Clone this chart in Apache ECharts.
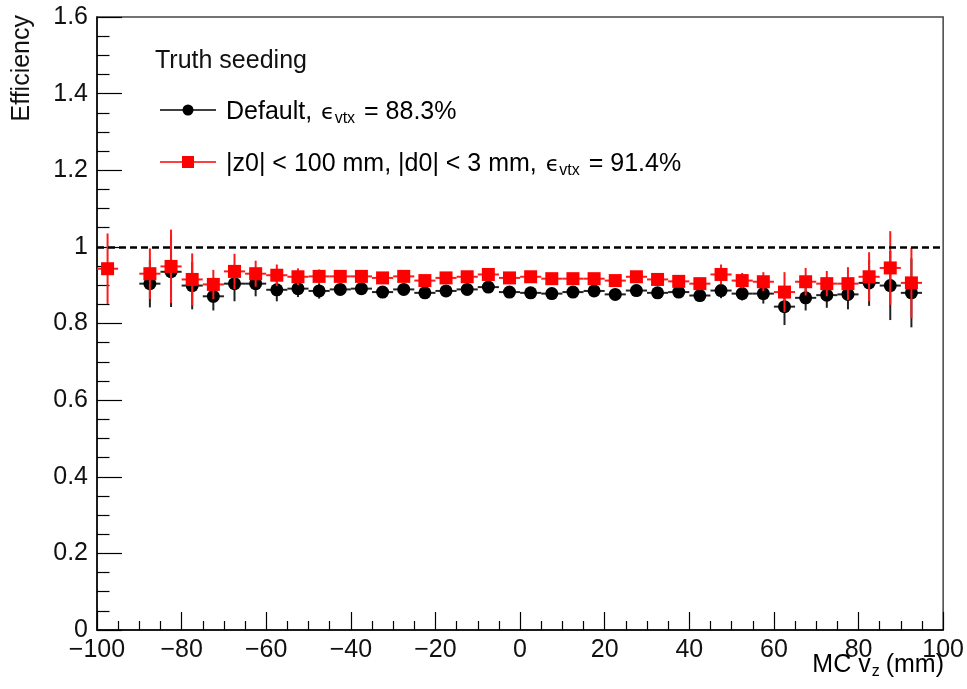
<!DOCTYPE html>
<html>
<head>
<meta charset="utf-8">
<title>Efficiency vs MC vz</title>
<script src="https://cdn.jsdelivr.net/npm/echarts@6/dist/echarts.min.js"></script>
<style>
  html, body { margin: 0; padding: 0; background: #fff; }
  #chart { width: 967px; height: 689px; }
</style>
</head>
<body>
<div id="chart"></div>
<script>
// Bin centres of the MC vertex z distribution (mm); each bin is 5 mm wide
const binCenters = [-97.5, -87.5, -82.5, -77.5, -72.5, -67.5, -62.5, -57.5, -52.5, -47.5,
  -42.5, -37.5, -32.5, -27.5, -22.5, -17.5, -12.5, -7.5, -2.5, 2.5,
  7.5, 12.5, 17.5, 22.5, 27.5, 32.5, 37.5, 42.5, 47.5, 52.5,
  57.5, 62.5, 67.5, 72.5, 77.5, 82.5, 87.5, 92.5];
const binHalfWidth = 2.5;

// Default selection
const defaultEff = [null, 0.904, 0.935, 0.899, 0.871, 0.904, 0.904, 0.888, 0.891, 0.885,
  0.889, 0.891, 0.882, 0.889, 0.880, 0.885, 0.889, 0.895, 0.882, 0.880,
  0.878, 0.882, 0.885, 0.876, 0.886, 0.880, 0.882, 0.873, 0.886, 0.878,
  0.878, 0.844, 0.867, 0.874, 0.876, 0.906, 0.899, 0.880];
const defaultErr = [null, 0.062, 0.092, 0.062, 0.037, 0.046, 0.033, 0.030, 0.022, 0.020,
  0.015, 0.014, 0.013, 0.012, 0.012, 0.012, 0.012, 0.012, 0.012, 0.012,
  0.012, 0.012, 0.012, 0.012, 0.012, 0.013, 0.014, 0.016, 0.020, 0.018,
  0.026, 0.048, 0.033, 0.033, 0.039, 0.060, 0.090, 0.090];

// |z0| < 100 mm, |d0| < 3 mm selection
const cutEff = [0.943, 0.930, 0.949, 0.915, 0.902, 0.936, 0.930, 0.926, 0.922, 0.923,
  0.923, 0.923, 0.919, 0.923, 0.912, 0.919, 0.922, 0.928, 0.919, 0.922,
  0.917, 0.917, 0.917, 0.912, 0.922, 0.915, 0.910, 0.904, 0.928, 0.912,
  0.909, 0.882, 0.909, 0.904, 0.904, 0.922, 0.945, 0.906];
const cutErr = [0.092, 0.066, 0.096, 0.068, 0.038, 0.046, 0.034, 0.028, 0.022, 0.018,
  0.014, 0.013, 0.012, 0.012, 0.012, 0.012, 0.012, 0.012, 0.012, 0.012,
  0.012, 0.012, 0.012, 0.012, 0.012, 0.012, 0.013, 0.015, 0.026, 0.020,
  0.025, 0.052, 0.036, 0.033, 0.043, 0.064, 0.096, 0.092];

const unityLevel = 1;
const legendTitle = 'Truth seeding';
const defaultLabel = ['Default, ', '88.3%'];
const cutLabel = ['|z0| < 100 mm, |d0| < 3 mm, ', '91.4%'];

const FONT = '"Liberation Sans", Arial, Helvetica, sans-serif';
const FS = 25;
const EPS = '\u03F5';

function rows(vals, errs) {
  const out = [];
  binCenters.forEach((x, i) => {
    if (vals[i] !== null) out.push([x, vals[i], errs[i]]);
  });
  return out;
}

function errorBars(color) {
  return function (params, api) {
    const x = api.value(0), y = api.value(1), e = api.value(2);
    const top = api.coord([x, y + e]);
    const bot = api.coord([x, y - e]);
    const left = api.coord([x - binHalfWidth, y]);
    const right = api.coord([x + binHalfWidth, y]);
    const style = { stroke: color, lineWidth: 2 };
    return {
      type: 'group',
      children: [
        { type: 'line', shape: { x1: top[0], y1: top[1], x2: bot[0], y2: bot[1] }, style },
        { type: 'line', shape: { x1: left[0], y1: left[1], x2: right[0], y2: right[1] }, style }
      ]
    };
  };
}

const defaultData = rows(defaultEff, defaultErr);
const cutData = rows(cutEff, cutErr);

const chart = echarts.init(document.getElementById('chart'), null, { renderer: 'canvas' });

const richLegend = {
  t: { fontSize: FS, fontFamily: FONT, color: '#111', lineHeight: 30, verticalAlign: 'middle' },
  e: { fontSize: 22, fontFamily: '"DejaVu Sans", ' + FONT, color: '#111', lineHeight: 30, verticalAlign: 'bottom', padding: [0, 0, 3, 2] },
  s: { fontSize: 16, fontFamily: FONT, color: '#111', lineHeight: 30, verticalAlign: 'bottom', padding: [0, 2, 0, 0] }
};

chart.setOption({
  animation: false,
  backgroundColor: '#fff',
  grid: {
    left: 97, right: 22, top: 17, bottom: 59,
    show: true, borderColor: '#444', borderWidth: 1.5, backgroundColor: 'transparent'
  },
  xAxis: {
    type: 'value', min: -100, max: 100, interval: 20,
    axisLine: { onZero: false, lineStyle: { color: '#000', width: 1.5 } },
    axisTick: { inside: true, length: 18, lineStyle: { color: '#000', width: 1.2 } },
    minorTick: { show: true, splitNumber: 4, length: 9, lineStyle: { color: '#000', width: 1.2 } },
    splitLine: { show: false },
    axisLabel: {
      margin: 8, fontSize: FS, fontFamily: FONT, color: '#111',
      formatter: v => String(v).replace('-', '\u2212')
    }
  },
  yAxis: {
    type: 'value', min: 0, max: 1.6, interval: 0.2,
    axisLine: { show: true, onZero: false, lineStyle: { color: '#000', width: 1.5 } },
    axisTick: { inside: true, length: 25, lineStyle: { color: '#000', width: 1.2 } },
    minorTick: { show: true, splitNumber: 4, length: 12.5, lineStyle: { color: '#000', width: 1.2 } },
    splitLine: { show: false },
    axisLabel: {
      margin: 9, fontSize: FS, fontFamily: FONT, color: '#111',
      formatter: v => String(+v.toFixed(1))
    }
  },
  series: [
    {
      name: 'default-errors', type: 'custom', z: 2,
      renderItem: errorBars('#222'), data: defaultData,
      encode: { x: 0, y: 1 }, silent: true
    },
    {
      name: 'Default', type: 'scatter', z: 3, symbol: 'circle', symbolSize: 13,
      itemStyle: { color: '#000', opacity: 1 }, data: defaultData.map(d => [d[0], d[1]]),
      markLine: {
        silent: true, symbol: 'none', label: { show: false },
        lineStyle: { color: '#000', type: [7, 4], width: 2.5, opacity: 1 },
        data: [{ yAxis: unityLevel }]
      }
    },
    {
      name: 'cut-errors', type: 'custom', z: 4,
      renderItem: errorBars('#ff1a1a'), data: cutData,
      encode: { x: 0, y: 1 }, silent: true
    },
    {
      name: 'Cut', type: 'scatter', z: 5, symbol: 'rect', symbolSize: 13,
      itemStyle: { color: '#ff0000', opacity: 1 }, data: cutData.map(d => [d[0], d[1]])
    }
  ],
  graphic: [
    // axis titles
    {
      type: 'text', x: 22, y: 15, rotation: Math.PI / 2,
      style: { text: 'Efficiency', font: FS + 'px ' + FONT, fill: '#111', align: 'right', verticalAlign: 'middle' }
    },
    {
      type: 'text', x: 944, y: 665,
      style: {
        text: '{t|MC v}{s|z}{t|(mm)}', align: 'right', verticalAlign: 'middle',
        rich: {
          t: { fontSize: FS, fontFamily: FONT, color: '#111', lineHeight: 30, verticalAlign: 'middle' },
          s: { fontSize: 16, fontFamily: FONT, color: '#111', lineHeight: 30, verticalAlign: 'bottom', padding: [0, 6, 0, 1] }
        }
      }
    },
    // legend
    {
      type: 'text', x: 155, y: 61,
      style: { text: legendTitle, font: FS + 'px ' + FONT, fill: '#111', align: 'left', verticalAlign: 'middle' }
    },
    { type: 'line', shape: { x1: 160, y1: 110, x2: 216, y2: 110 }, style: { stroke: '#000', lineWidth: 1.5 } },
    { type: 'circle', shape: { cx: 188, cy: 110, r: 5.5 }, style: { fill: '#000' } },
    {
      type: 'text', x: 226, y: 112,
      style: {
        text: '{t|' + defaultLabel[0] + '}{e|' + EPS + '}{s|vtx}{t| = ' + defaultLabel[1] + '}',
        align: 'left', verticalAlign: 'middle', rich: richLegend
      }
    },
    { type: 'line', shape: { x1: 160, y1: 162, x2: 216, y2: 162 }, style: { stroke: '#ff0000', lineWidth: 1.5 } },
    { type: 'rect', shape: { x: 182, y: 156, width: 12, height: 12 }, style: { fill: '#ff0000' } },
    {
      type: 'text', x: 226, y: 164,
      style: {
        text: '{t|' + cutLabel[0] + '}{e|' + EPS + '}{s|vtx}{t| = ' + cutLabel[1] + '}',
        align: 'left', verticalAlign: 'middle', rich: richLegend
      }
    }
  ]
});
</script>
</body>
</html>
